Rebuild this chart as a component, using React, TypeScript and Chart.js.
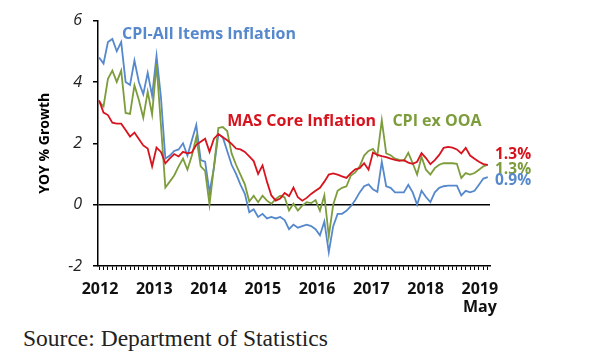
import React, { useEffect, useRef } from 'react';
import { Chart, registerables } from 'chart.js';

Chart.register(...registerables);

// ---- Data (monthly, Jan 2012 – May 2019) ----
const yearLabels = ['2012', '2013', '2014', '2015', '2016', '2017', '2018', '2019'];
const lastMonthLabel = 'May';

const cpiAllItems = [
  4.8, 4.6, 5.3, 5.4, 5.0, 5.3, 4.0, 3.9, 4.7, 4.0, 3.6, 4.3,
  3.55, 4.85, 3.5, 1.5, 1.6, 1.75, 1.8, 2.0, 1.6, 2.1, 2.6, 1.45,
  1.4, 0.4, 1.2, 2.3, 2.2, 1.75, 1.3, 1.0, 0.65, 0.35, -0.25, -0.15,
  -0.4, -0.3, -0.45, -0.4, -0.45, -0.4, -0.5, -0.8, -0.65, -0.75, -0.7, -0.65,
  -0.7, -0.8, -1.0, -0.55, -1.55, -0.7, -0.3, -0.3, -0.2, -0.05, 0.15, 0.4,
  0.6, 0.66, 0.5, 0.42, 1.4, 0.6, 0.55, 0.4, 0.4, 0.4, 0.65, 0.4,
  0.0, 0.45, 0.25, 0.08, 0.4, 0.55, 0.6, 0.62, 0.62, 0.62, 0.3, 0.45,
  0.4, 0.45, 0.65, 0.85, 0.9,
];

const masCore = [
  3.4, 3.0, 2.92, 2.67, 2.64, 2.64, 2.43, 2.22, 2.35, 2.14, 1.93, 1.83,
  1.25, 1.86, 1.72, 1.35, 1.51, 1.65, 1.57, 1.72, 1.67, 1.7, 1.95, 2.05,
  2.15, 1.72, 2.15, 2.3, 2.2, 2.1, 1.98, 1.83, 1.8, 1.72, 1.57, 1.42,
  1.0, 1.28, 0.75, 0.3, 0.13, 0.2, 0.38, 0.28, 0.56, 0.24, 0.13, 0.22,
  0.35, 0.45, 0.55, 0.75, 0.98, 1.02, 0.98, 0.92, 0.87, 1.03, 1.15, 1.19,
  1.35, 1.14, 1.7, 1.62, 1.58, 1.55, 1.5, 1.46, 1.43, 1.45, 1.37, 1.33,
  1.4, 1.68, 1.52, 1.32, 1.45, 1.62, 1.85, 1.88, 1.86, 1.8, 1.67, 1.85,
  1.6, 1.5, 1.4, 1.32, 1.3,
];

const cpiExOOA = [
  3.36, 3.2, 4.1, 4.37, 4.0, 4.37, 2.99, 2.96, 3.89, 3.41, 2.83, 3.68,
  2.94, 4.58, 2.6, 0.56, 0.75, 0.95, 1.25, 1.5, 1.14, 1.6, 2.2, 1.25,
  1.1, 0.0, 1.25, 2.5, 2.53, 2.4, 1.67, 1.3, 0.98, 0.66, 0.1, 0.29,
  0.08, 0.29, 0.13, 0.03, 0.19, 0.29, 0.24, -0.19, 0.03, -0.19, -0.03, 0.08,
  0.05, 0.15, -0.2, 0.3, -1.03, 0.0, 0.45, 0.55, 0.6, 0.95, 1.05, 1.25,
  1.6, 1.75, 1.82, 1.6, 2.75, 1.67, 1.61, 1.5, 1.46, 1.43, 1.69, 1.35,
  0.98, 1.56, 1.14, 0.98, 1.19, 1.3, 1.35, 1.35, 1.35, 1.33, 0.87, 1.03,
  0.98, 1.03, 1.14, 1.25, 1.3,
];

const seriesNames = ['CPI-All Items Inflation', 'MAS Core Inflation', 'CPI ex OOA'];
const yTickValues = [-2, 0, 2, 4, 6];
const yTitle = 'YOY % Growth';
const sourceNote = 'Source: Department of Statistics';

// ---- Styles ----
const BLUE = '#5588CC';
const RED = '#D7141E';
const GREEN = '#7D9C3C';
const FONT = '"Open Sans", Lato, "DejaVu Sans", sans-serif';

const toXY = (arr: number[]) => arr.map((v, i) => ({ x: i, y: v }));

// series-name annotation anchors (in data coordinates: month index, value)
const nameAnchors = [
  { text: seriesNames[0], color: BLUE, x: 5.2, y: 5.55 },
  { text: seriesNames[1], color: RED, x: 29.0, y: 2.72 },
  { text: seriesNames[2], color: GREEN, x: 66.4, y: 2.72 },
];
// end-value labels (value position offsets to avoid overlap)
const endLabels = [
  { data: masCore, color: RED, y: 1.64 },
  { data: cpiExOOA, color: GREEN, y: 1.14 },
  { data: cpiAllItems, color: BLUE, y: 0.8 },
];

const annotationPlugin = {
  id: 'annotations',
  afterDatasetsDraw(chart: any) {
    const { ctx, scales, chartArea } = chart;
    const xs = scales.x;
    const ys = scales.y;
    ctx.save();
    ctx.font = `bold 16px ${FONT}`;
    ctx.textBaseline = 'middle';
    ctx.textAlign = 'left';
    for (const a of nameAnchors) {
      ctx.fillStyle = a.color;
      ctx.fillText(a.text, xs.getPixelForValue(a.x), ys.getPixelForValue(a.y));
    }
    ctx.font = `bold 15.5px ${FONT}`;
    for (const e of endLabels) {
      ctx.fillStyle = e.color;
      const last = e.data[e.data.length - 1];
      ctx.fillText(`${last.toFixed(1)}%`, chartArea.right + 5, ys.getPixelForValue(e.y));
    }
    ctx.restore();
  },
};

export default function App() {
  const canvasRef = useRef<HTMLCanvasElement | null>(null);

  useEffect(() => {
    if (!canvasRef.current) return;
    const n = cpiAllItems.length;
    const lineDs = (label: string, data: number[], color: string) => ({
      label,
      data: toXY(data),
      borderColor: color,
      backgroundColor: color,
      borderWidth: 1.8,
      pointRadius: 0,
      tension: 0,
      fill: false,
    });
    const chart = new Chart(canvasRef.current, {
      type: 'line',
      data: {
        datasets: [
          lineDs(seriesNames[1], masCore, RED),
          lineDs(seriesNames[2], cpiExOOA, GREEN),
          lineDs(seriesNames[0], cpiAllItems, BLUE),
        ],
      },
      options: {
        responsive: false,
        animation: false,
        layout: { padding: { top: 15, right: 110, left: 0, bottom: 0 } },
        plugins: { legend: { display: false }, tooltip: { enabled: false } },
        scales: {
          x: {
            type: 'linear',
            position: 'bottom',
            weight: 0,
            min: -0.25,
            max: n - 0.5,
            afterBuildTicks: (s: any) => {
              s.ticks = Array.from({ length: n }, (_, i) => ({ value: i }));
            },
            afterFit: (s: any) => {
              s.height = 4;
            },
            ticks: { display: false },
            grid: {
              display: true,
              drawOnChartArea: false,
              drawTicks: true,
              tickLength: 4,
              color: '#000',
              lineWidth: 1,
            },
            border: { display: true, color: '#000', width: 1.5 },
          },
          x2: {
            type: 'linear',
            position: 'bottom',
            weight: 1,
            min: -0.25,
            max: n - 0.5,
            afterBuildTicks: (s: any) => {
              const step = (n - 1 - 2) / (yearLabels.length - 1);
              s.ticks = yearLabels.map((_, k) => ({ value: 0.2 + k * step }));
            },
            afterFit: (s: any) => {
              s.height = 50;
            },
            ticks: {
              autoSkip: false,
              maxRotation: 0,
              padding: 10,
              color: '#111',
              font: { family: FONT, size: 16, weight: 'bold', lineHeight: 1.15 },
              callback: (_v: any, idx: number) =>
                idx === yearLabels.length - 1 ? [yearLabels[idx], lastMonthLabel] : yearLabels[idx],
            },
            grid: { display: false, drawTicks: false, tickLength: 0 },
            border: { display: false },
          },
          y: {
            min: -2,
            max: 6,
            afterBuildTicks: (s: any) => {
              s.ticks = yTickValues.map((v) => ({ value: v }));
            },
            afterFit: (s: any) => {
              s.width = 98;
            },
            ticks: {
              padding: 11,
              color: '#222',
              font: { family: FONT, size: 16, style: 'italic' },
            },
            grid: {
              drawOnChartArea: true,
              color: (c: any) => (c.tick && c.tick.value === 0 ? '#000' : 'rgba(0,0,0,0)'),
              lineWidth: 1.5,
              tickColor: '#000',
              tickLength: 5,
            },
            border: { display: true, color: '#000', width: 1.5 },
            title: {
              display: true,
              text: yTitle,
              color: '#000',
              font: { family: FONT, size: 14, weight: 'bold' },
              padding: { top: 37, bottom: 0 },
            },
          },
        },
      },
      plugins: [annotationPlugin],
    } as any);
    return () => chart.destroy();
  }, []);

  return (
    <div style={{ position: 'absolute', left: 0, top: 0, width: 600, height: 360, background: '#fff' }}>
      <canvas ref={canvasRef} width={600} height={320} style={{ display: 'block' }} />
      <div
        style={{
          position: 'absolute',
          left: 23,
          top: 325,
          fontFamily: '"Liberation Serif", "Times New Roman", serif',
          fontSize: 23.5,
          color: '#222',
          whiteSpace: 'nowrap',
        }}
      >
        {sourceNote}
      </div>
    </div>
  );
}
